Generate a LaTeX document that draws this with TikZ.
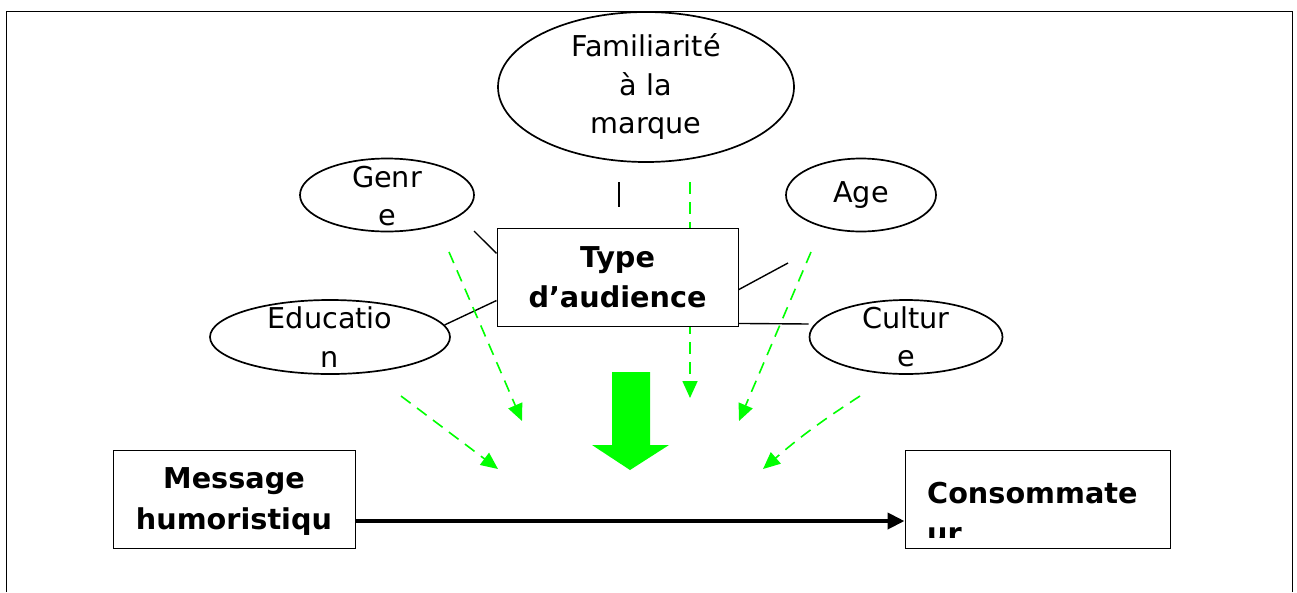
\documentclass[tikz,border=0pt]{standalone}
\usepackage{fontspec}
\setmainfont{DejaVu Sans}
\usetikzlibrary{shapes.geometric,arrows.meta,backgrounds}

\begin{document}
\begin{tikzpicture}[x=1pt,y=-1pt]
    % Define Styles
        \tikzstyle{oval} = [
            ellipse,
            draw,
            line width = 1.7pt,
            inner sep = 0pt
        ]
        \tikzstyle{txt} = [
            align = center,
            inner sep = 0pt,
            font = \fontsize{28.7}{38.5}\selectfont
        ]
        \tikzstyle{block} = [
            rectangle,
            draw,
            fill = white,
            align = center,
            line width = 1pt,
            inner sep = 0pt,
            minimum height = 98pt,
            font = \fontsize{28.7}{40}\selectfont\bfseries
        ]
        \tikzstyle{link} = [
            draw,
            line width = 1.4pt
        ]
        \tikzstyle{influence} = [
            draw,
            green,
            line width = 1.6pt,
            dash pattern = on 12pt off 8pt,
            -{Triangle[length=17pt, width=15pt]}
        ]
    \useasboundingbox (0,0) rectangle (1297,592);
    \draw [line width=1pt] (6,592) -- (6,11) -- (1292,11) -- (1292,592);
    % Place nodes
        \node [oval, minimum width=296pt, minimum height=150pt] (fam) at (646,87) {};
        \node [txt] (famtext) at (fam) {Familiarité\\à la\\marque};
        \node [oval, minimum width=174pt, minimum height=73pt] (genre) at (387,195) {};
        \node [txt] (genretext) at ([yshift=-1pt]genre) {Genr\\e};
        \node [oval, minimum width=150pt, minimum height=73pt] (age) at (861,195) {};
        \node [txt] (agetext) at (age) {Age};
        \node [oval, minimum width=240pt, minimum height=74pt] (educ) at (330,337) {};
        \node [txt] (eductext) at (educ) {Educatio\\n};
        \node [oval, minimum width=193pt, minimum height=74pt] (cult) at (906,337) {};
        \node [txt] (culttext) at (cult) {Cultur\\e};
        \node [block, minimum width=241pt] (type) at (617.5,277) {Type\\d’audience};
        \node [block, minimum width=242pt] (msg) at (234,499) {};
        \node [txt, font=\fontsize{28.7}{41}\selectfont\bfseries] (msgtext)
            at ([yshift=-3pt]msg) {Message\\humoristiqu};
        \node [block, minimum width=265pt] (conso) at (1037.5,499) {};
        \begin{scope}
            \clip (906,451) rectangle (1169,537);
            \node [txt, align=left, anchor=north west,
                   font=\fontsize{28.7}{40}\selectfont\bfseries] (consotext) at (927,482) {Consommate\\ur};
        \end{scope}
    % Free ends
        \coordinate (genrecorner) at (474,231);
        \coordinate (agecorner) at (788,263);
        \coordinate (bartop) at (619,182);
        \coordinate (barbot) at (619,207);
        \coordinate (famfrom) at (690,182);
        \coordinate (famto) at (690,398);
        \coordinate (genrefrom) at (449,252);
        \coordinate (genreto) at (522,421);
        \coordinate (agefrom) at (811,252);
        \coordinate (ageto) at (739,421);
        \coordinate (educfrom) at (401,396);
        \coordinate (educto) at (498,469);
        \coordinate (cultfrom) at (860,396);
        \coordinate (cultto) at (763,469);
    % Draw edges
        \path [link] (genrecorner) -- (type.169);
        \path [link] (agecorner) -- (type.354);
        \path [link] (educ.6) -- (type.191);
        \path [link] (cult.west |- 0,324) -- (type.339);
        \path [link] (bartop) -- (barbot);
        \begin{scope}[on background layer]
            \path [influence] (famfrom) -- (famto);
        \end{scope}
        \path [influence] (genrefrom) -- (genreto);
        \path [influence] (agefrom) -- (ageto);
        \path [influence] (educfrom) -- (educto);
        \path [influence] (cultfrom) to [bend right=4] (cultto);
        \fill [green] (612,372) -- (650,372) -- (650,445) -- (669,445)
            -- (630,470) -- (592,445) -- (612,445) -- cycle;
        \draw [line width=4pt, -{Triangle[length=17pt, width=16pt]}]
            ([yshift=-22pt]msg.east) -- ([yshift=-22pt]conso.west);
\end{tikzpicture}
\end{document}
